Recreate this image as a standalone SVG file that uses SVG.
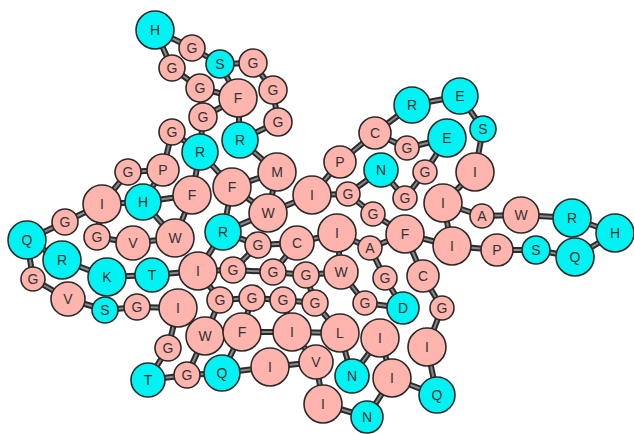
<svg xmlns="http://www.w3.org/2000/svg" width="634" height="434" viewBox="0 0 634 434">
<style>
.e1{stroke:#2b2b2b;stroke-width:6}
.e2{stroke:#8a8a8a;stroke-width:2}
.p{fill:#ffb5ae;stroke:#2a2a2a;stroke-width:1.6}
.c{fill:#00f2f2;stroke:#2a2a2a;stroke-width:1.6}
text{font-family:"Liberation Sans",Arial,sans-serif;font-size:14px;fill:#333;text-anchor:middle;dominant-baseline:central}
</style>
<defs>
<path id="E" d="M155,30L192,48M155,30L172,68M192,48L220,64M172,68L200,88M220,64L253,63M220,64L238,98M253,63L273,90M200,88L238,98M200,88L203,117M238,98L203,117M238,98L240,140M273,90L278,122M278,122L240,140M203,117L200,152M172,132L200,152M172,132L163,170M240,140L277,172M200,152L232,187M200,152L192,195M277,172L232,187M277,172L268,213M232,187L268,213M232,187L223,232M192,195L143,202M268,213L312,195M268,213L223,232M312,195L340,162M312,195L348,194M340,162L375,133M348,194L381,170M223,232L198,271M223,232L258,245M258,245L297,243M258,245L233,270M297,243L337,233M297,243L273,272M337,233L370,248M337,233L341,272M198,271L233,270M198,271L152,275M198,271L220,300M233,270L273,272M273,272L306,275M306,275L341,272M306,275L315,303M220,300L252,298M220,300L205,336M252,298L283,300M252,298L242,332M283,300L315,303M283,300L292,332M315,303L340,333M341,272L365,303M128,172L163,170M128,172L102,204M163,170L143,202M102,204L65,222M102,204L143,202M143,202L175,238M65,222L27,240M27,240L62,260M27,240L33,279M97,237L133,243M97,237L102,204M133,243L175,238M175,238L192,195M62,260L107,277M107,277L152,275M33,279L68,299M68,299L105,310M105,310L137,307M137,307L178,308M178,308L168,348M178,308L205,336M168,348L148,380M148,380L187,375M187,375L222,373M187,375L205,336M222,373L242,332M222,373L270,367M205,336L242,332M242,332L292,332M292,332L316,362M292,332L340,333M270,367L316,362M316,362L323,404M370,248L405,234M370,248L385,278M405,234L452,246M405,234L423,276M452,246L497,250M452,246L443,203M385,278L403,308M423,276L442,308M365,303L403,308M442,308L427,347M427,347L437,395M340,333L352,376M380,338L352,376M380,338L392,378M392,378L437,395M392,378L367,417M323,404L367,417M412,105L460,96M412,105L375,133M460,96L483,129M483,129L475,172M375,133L407,148M407,148L447,138M447,138L425,172M425,172L405,198M381,170L405,198M475,172L443,203M443,203L482,216M482,216L521,215M521,215L572,218M572,218L615,233M615,233L575,257M536,250L575,257M497,250L536,250M373,214L348,194M373,214L405,234"/>
</defs>
<rect width="634" height="434" fill="#fff"/>
<g id="connectors">
<use href="#E" class="e1"/>
<use href="#E" class="e2"/>
</g>
<g id="n1"><circle class="c" cx="155" cy="30" r="19"/><text x="155" y="30">H</text></g>
<g id="n2"><circle class="p" cx="192" cy="48" r="13"/><text x="192" y="48">G</text></g>
<g id="n3"><circle class="p" cx="172" cy="68" r="13"/><text x="172" y="68">G</text></g>
<g id="n4"><circle class="c" cx="220" cy="64" r="14"/><text x="220" y="64">S</text></g>
<g id="n5"><circle class="p" cx="253" cy="63" r="14"/><text x="253" y="63">G</text></g>
<g id="n6"><circle class="p" cx="200" cy="88" r="14"/><text x="200" y="88">G</text></g>
<g id="n7"><circle class="p" cx="238" cy="98" r="19"/><text x="238" y="98">F</text></g>
<g id="n8"><circle class="p" cx="273" cy="90" r="14"/><text x="273" y="90">G</text></g>
<g id="n9"><circle class="p" cx="203" cy="117" r="14"/><text x="203" y="117">G</text></g>
<g id="n10"><circle class="p" cx="278" cy="122" r="14"/><text x="278" y="122">G</text></g>
<g id="n11"><circle class="p" cx="172" cy="132" r="13"/><text x="172" y="132">G</text></g>
<g id="n12"><circle class="c" cx="240" cy="140" r="18"/><text x="240" y="140">R</text></g>
<g id="n13"><circle class="c" cx="200" cy="152" r="18"/><text x="200" y="152">R</text></g>
<g id="n14"><circle class="p" cx="277" cy="172" r="19"/><text x="277" y="172">M</text></g>
<g id="n15"><circle class="p" cx="232" cy="187" r="19"/><text x="232" y="187">F</text></g>
<g id="n16"><circle class="p" cx="192" cy="195" r="19"/><text x="192" y="195">F</text></g>
<g id="n17"><circle class="p" cx="268" cy="213" r="19"/><text x="268" y="213">W</text></g>
<g id="n18"><circle class="p" cx="312" cy="195" r="19"/><text x="312" y="195">I</text></g>
<g id="n19"><circle class="p" cx="340" cy="162" r="16"/><text x="340" y="162">P</text></g>
<g id="n20"><circle class="p" cx="348" cy="194" r="12"/><text x="348" y="194">G</text></g>
<g id="n21"><circle class="c" cx="223" cy="232" r="18"/><text x="223" y="232">R</text></g>
<g id="n22"><circle class="p" cx="258" cy="245" r="13"/><text x="258" y="245">G</text></g>
<g id="n23"><circle class="p" cx="297" cy="243" r="17"/><text x="297" y="243">C</text></g>
<g id="n24"><circle class="p" cx="337" cy="233" r="19"/><text x="337" y="233">I</text></g>
<g id="n25"><circle class="p" cx="198" cy="271" r="19"/><text x="198" y="271">I</text></g>
<g id="n26"><circle class="p" cx="233" cy="270" r="13"/><text x="233" y="270">G</text></g>
<g id="n27"><circle class="p" cx="273" cy="272" r="13"/><text x="273" y="272">G</text></g>
<g id="n28"><circle class="p" cx="306" cy="275" r="13"/><text x="306" y="275">G</text></g>
<g id="n29"><circle class="p" cx="341" cy="272" r="17"/><text x="341" y="272">W</text></g>
<g id="n30"><circle class="p" cx="220" cy="300" r="13"/><text x="220" y="300">G</text></g>
<g id="n31"><circle class="p" cx="252" cy="298" r="13"/><text x="252" y="298">G</text></g>
<g id="n32"><circle class="p" cx="283" cy="300" r="13"/><text x="283" y="300">G</text></g>
<g id="n33"><circle class="p" cx="315" cy="303" r="13"/><text x="315" y="303">G</text></g>
<g id="n34"><circle class="p" cx="128" cy="172" r="13"/><text x="128" y="172">G</text></g>
<g id="n35"><circle class="p" cx="163" cy="170" r="16"/><text x="163" y="170">P</text></g>
<g id="n36"><circle class="p" cx="102" cy="204" r="19"/><text x="102" y="204">I</text></g>
<g id="n37"><circle class="c" cx="143" cy="202" r="18"/><text x="143" y="202">H</text></g>
<g id="n38"><circle class="p" cx="65" cy="222" r="13"/><text x="65" y="222">G</text></g>
<g id="n39"><circle class="c" cx="27" cy="240" r="19"/><text x="27" y="240">Q</text></g>
<g id="n40"><circle class="p" cx="97" cy="237" r="13"/><text x="97" y="237">G</text></g>
<g id="n41"><circle class="p" cx="133" cy="243" r="17"/><text x="133" y="243">V</text></g>
<g id="n42"><circle class="p" cx="175" cy="238" r="19"/><text x="175" y="238">W</text></g>
<g id="n43"><circle class="c" cx="62" cy="260" r="19"/><text x="62" y="260">R</text></g>
<g id="n44"><circle class="c" cx="107" cy="277" r="19"/><text x="107" y="277">K</text></g>
<g id="n45"><circle class="c" cx="152" cy="275" r="17"/><text x="152" y="275">T</text></g>
<g id="n46"><circle class="p" cx="33" cy="279" r="12"/><text x="33" y="279">G</text></g>
<g id="n47"><circle class="p" cx="68" cy="299" r="17"/><text x="68" y="299">V</text></g>
<g id="n48"><circle class="c" cx="105" cy="310" r="13"/><text x="105" y="310">S</text></g>
<g id="n49"><circle class="p" cx="137" cy="307" r="13"/><text x="137" y="307">G</text></g>
<g id="n50"><circle class="p" cx="178" cy="308" r="19"/><text x="178" y="308">I</text></g>
<g id="n51"><circle class="p" cx="205" cy="336" r="19"/><text x="205" y="336">W</text></g>
<g id="n52"><circle class="p" cx="242" cy="332" r="19"/><text x="242" y="332">F</text></g>
<g id="n53"><circle class="p" cx="292" cy="332" r="19"/><text x="292" y="332">I</text></g>
<g id="n54"><circle class="p" cx="168" cy="348" r="13"/><text x="168" y="348">G</text></g>
<g id="n55"><circle class="c" cx="148" cy="380" r="17"/><text x="148" y="380">T</text></g>
<g id="n56"><circle class="p" cx="187" cy="375" r="13"/><text x="187" y="375">G</text></g>
<g id="n57"><circle class="c" cx="222" cy="373" r="18"/><text x="222" y="373">Q</text></g>
<g id="n58"><circle class="p" cx="270" cy="367" r="19"/><text x="270" y="367">I</text></g>
<g id="n59"><circle class="p" cx="316" cy="362" r="17"/><text x="316" y="362">V</text></g>
<g id="n60"><circle class="p" cx="370" cy="248" r="12"/><text x="370" y="248">A</text></g>
<g id="n61"><circle class="p" cx="405" cy="234" r="19"/><text x="405" y="234">F</text></g>
<g id="n62"><circle class="p" cx="452" cy="246" r="19"/><text x="452" y="246">I</text></g>
<g id="n63"><circle class="p" cx="385" cy="278" r="12"/><text x="385" y="278">G</text></g>
<g id="n64"><circle class="p" cx="423" cy="276" r="16"/><text x="423" y="276">C</text></g>
<g id="n65"><circle class="p" cx="365" cy="303" r="12"/><text x="365" y="303">G</text></g>
<g id="n66"><circle class="c" cx="403" cy="308" r="16"/><text x="403" y="308">D</text></g>
<g id="n67"><circle class="p" cx="442" cy="308" r="12"/><text x="442" y="308">G</text></g>
<g id="n68"><circle class="p" cx="340" cy="333" r="19"/><text x="340" y="333">L</text></g>
<g id="n69"><circle class="p" cx="380" cy="338" r="19"/><text x="380" y="338">I</text></g>
<g id="n70"><circle class="p" cx="427" cy="347" r="19"/><text x="427" y="347">I</text></g>
<g id="n71"><circle class="c" cx="352" cy="376" r="17"/><text x="352" y="376">N</text></g>
<g id="n72"><circle class="p" cx="392" cy="378" r="19"/><text x="392" y="378">I</text></g>
<g id="n73"><circle class="c" cx="437" cy="395" r="18"/><text x="437" y="395">Q</text></g>
<g id="n74"><circle class="p" cx="323" cy="404" r="19"/><text x="323" y="404">I</text></g>
<g id="n75"><circle class="c" cx="367" cy="417" r="16"/><text x="367" y="417">N</text></g>
<g id="n76"><circle class="c" cx="412" cy="105" r="18"/><text x="412" y="105">R</text></g>
<g id="n77"><circle class="c" cx="460" cy="96" r="18"/><text x="460" y="96">E</text></g>
<g id="n78"><circle class="c" cx="483" cy="129" r="13"/><text x="483" y="129">S</text></g>
<g id="n79"><circle class="p" cx="375" cy="133" r="16"/><text x="375" y="133">C</text></g>
<g id="n80"><circle class="p" cx="407" cy="148" r="12"/><text x="407" y="148">G</text></g>
<g id="n81"><circle class="c" cx="447" cy="138" r="19"/><text x="447" y="138">E</text></g>
<g id="n82"><circle class="c" cx="381" cy="170" r="17"/><text x="381" y="170">N</text></g>
<g id="n83"><circle class="p" cx="425" cy="172" r="12"/><text x="425" y="172">G</text></g>
<g id="n84"><circle class="p" cx="475" cy="172" r="19"/><text x="475" y="172">I</text></g>
<g id="n85"><circle class="p" cx="405" cy="198" r="12"/><text x="405" y="198">G</text></g>
<g id="n86"><circle class="p" cx="443" cy="203" r="19"/><text x="443" y="203">I</text></g>
<g id="n87"><circle class="p" cx="482" cy="216" r="12"/><text x="482" y="216">A</text></g>
<g id="n88"><circle class="p" cx="373" cy="214" r="12"/><text x="373" y="214">G</text></g>
<g id="n89"><circle class="p" cx="521" cy="215" r="18"/><text x="521" y="215">W</text></g>
<g id="n90"><circle class="c" cx="572" cy="218" r="19"/><text x="572" y="218">R</text></g>
<g id="n91"><circle class="c" cx="615" cy="233" r="19"/><text x="615" y="233">H</text></g>
<g id="n92"><circle class="p" cx="497" cy="250" r="16"/><text x="497" y="250">P</text></g>
<g id="n93"><circle class="c" cx="536" cy="250" r="14"/><text x="536" y="250">S</text></g>
<g id="n94"><circle class="c" cx="575" cy="257" r="19"/><text x="575" y="257">Q</text></g>
</svg>
